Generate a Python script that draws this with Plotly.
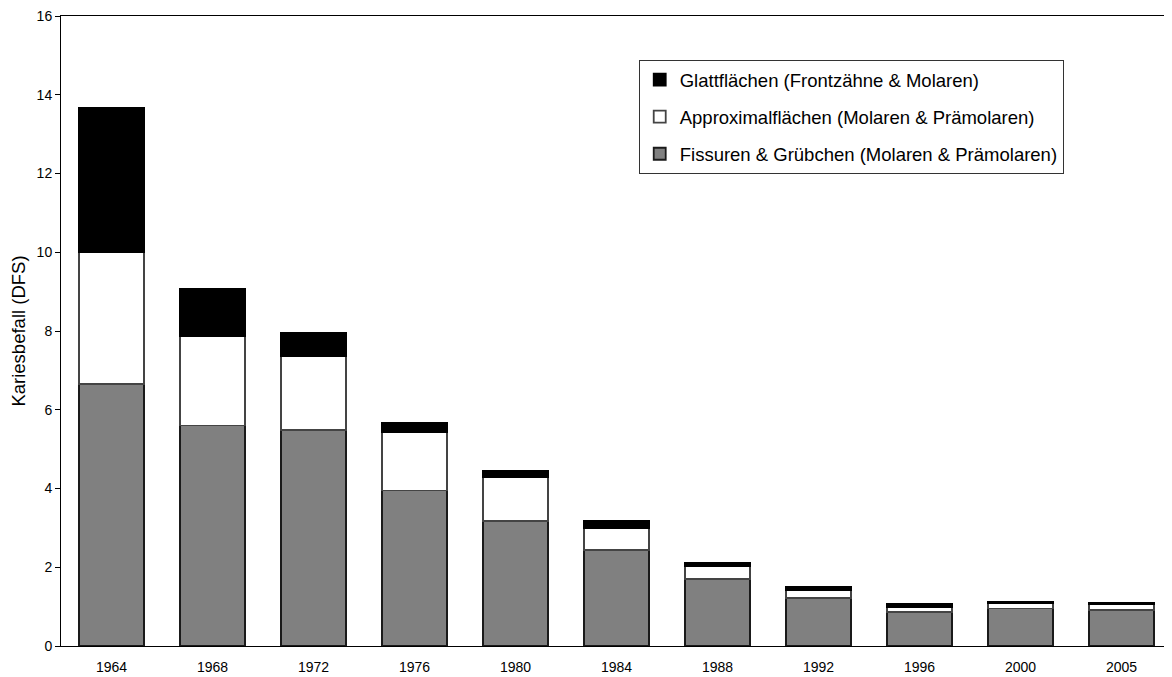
import plotly.graph_objects as go

years = ["1964", "1968", "1972", "1976", "1980", "1984", "1988", "1992", "1996", "2000", "2005"]
fissuren = [6.65, 5.60, 5.48, 3.95, 3.17, 2.43, 1.71, 1.22, 0.86, 0.95, 0.91]
approximal = [3.35, 2.27, 1.89, 1.47, 1.11, 0.56, 0.33, 0.19, 0.14, 0.13, 0.15]
glatt = [3.66, 1.19, 0.57, 0.24, 0.16, 0.18, 0.08, 0.10, 0.06, 0.05, 0.04]

names = [
    "Fissuren & Grübchen (Molaren & Prämolaren)",
    "Approximalflächen (Molaren & Prämolaren)",
    "Glattflächen (Frontzähne & Molaren)",
]
colors = ["#808080", "#ffffff", "#000000"]
lines = ["#1a1a1a", "#444444", "#000000"]

fig = go.Figure()
for vals, name, c, lc, rank in zip([fissuren, approximal, glatt], names, colors, lines, [3, 2, 1]):
    fig.add_trace(go.Bar(
        x=years, y=vals, name=name, legendgroup=name, legendrank=rank,
        marker=dict(color=c, line=dict(color=lc, width=1.8)),
    ))

font = "Liberation Sans, Arial, sans-serif"
fig.update_layout(
    width=1164, height=669,
    barmode="stack", bargap=0.35,
    plot_bgcolor="white", paper_bgcolor="white",
    margin=dict(l=53, r=0, t=8, b=31),
    font=dict(family=font, color="#000000", size=14),
    showlegend=True,
    legend=dict(
        x=0.52, y=0.930, xanchor="left", yanchor="top",
        traceorder="grouped", tracegroupgap=10,
        bordercolor="#333333", borderwidth=1, bgcolor="white",
        font=dict(family=font, size=18.5, color="#000000"),
        itemwidth=30,
    ),
    xaxis=dict(
        showline=True, linecolor="#000000", linewidth=1, mirror=True,
        ticks="", tickfont=dict(size=14), showgrid=False, automargin=False,
        ticklabeloverflow="allow", ticklabelstandoff=8,
    ),
    yaxis=dict(
        range=[0, 16], dtick=2, showline=True, linecolor="#000000", linewidth=1,
        ticks="outside", ticklen=5, tickcolor="#000000", showgrid=False, zeroline=False,
        tickfont=dict(size=14), automargin=False, ticklabeloverflow="allow",
        title=dict(text="Kariesbefall (DFS)", font=dict(size=18.5), standoff=10),
    ),
)

fig.write_html("out.html")
